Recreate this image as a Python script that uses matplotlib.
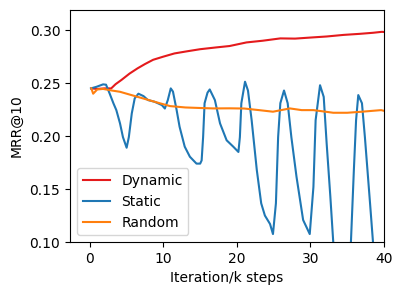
import matplotlib
matplotlib.use("Agg")
import matplotlib.pyplot as plt

# values
dyn_t = [0.2, 1.0, 2.0, 2.9, 3.5, 4.3, 5.4, 6.5, 7.5, 8.6, 10.0, 11.5, 13.2, 15.0,
         17.2, 19.0, 21.3, 23.5, 25.9, 27.9, 30.0, 32.2, 34.5, 36.7, 38.5, 39.7, 40.5]
dyn_v = [0.245, 0.2445, 0.245, 0.245, 0.249, 0.253, 0.259, 0.264, 0.268, 0.272, 0.275,
         0.278, 0.280, 0.282, 0.2837, 0.285, 0.2884, 0.290, 0.2922, 0.292, 0.293, 0.294,
         0.2955, 0.2965, 0.2975, 0.2984, 0.298]

sta_t = [0.15, 0.9, 1.8, 2.2, 2.7, 3.2, 3.6, 4.1, 4.5, 5.0, 5.3, 5.7, 6.1, 6.6, 7.3,
         7.9, 8.8, 9.8, 10.2, 10.6, 11.0, 11.3, 11.8, 12.2, 12.9, 13.6, 14.5, 15.0,
         15.2, 15.4, 15.6, 16.0, 16.3, 17.0, 17.7, 18.6, 19.5, 20.2, 20.4, 20.6, 21.1,
         21.5, 22.0, 22.7, 23.3, 23.8, 24.5, 24.9, 25.3, 25.6, 25.9, 26.4, 26.9, 27.4,
         28.1, 29.0, 29.9, 30.4, 30.7, 31.3, 31.8, 32.2, 32.7, 33.1, 34.3, 35.5, 35.9,
         36.2, 36.5, 37.0, 37.4, 38.1, 38.5, 39.5, 40.5]
sta_v = [0.245, 0.2465, 0.2488, 0.2485, 0.240, 0.231, 0.2245, 0.212, 0.199, 0.189,
         0.199, 0.2214, 0.2356, 0.240, 0.2377, 0.234, 0.2324, 0.2292, 0.226, 0.234,
         0.245, 0.242, 0.2245, 0.2088, 0.190, 0.1805, 0.174, 0.174, 0.177, 0.199, 0.231,
         0.241, 0.244, 0.234, 0.212, 0.196, 0.190, 0.185, 0.199, 0.231, 0.2513, 0.243,
         0.215, 0.168, 0.1365, 0.125, 0.117, 0.1075, 0.1365, 0.199, 0.231, 0.243, 0.231,
         0.199, 0.1616, 0.1208, 0.1075, 0.152, 0.215, 0.248, 0.237, 0.193, 0.143, 0.0995,
         0.060, 0.100, 0.168, 0.215, 0.2387, 0.231, 0.199, 0.1365, 0.100, 0.060, 0.050]

rnd_t = [0.2, 0.45, 1.0, 1.8, 3.0, 4.1, 5.5, 7.7, 9.5, 10.9, 13.0, 15.0, 16.8, 19.0,
         21.0, 23.0, 24.9, 27.2, 28.8, 30.4, 31.5, 33.1, 35.0, 37.0, 39.6, 40.5]
rnd_v = [0.245, 0.240, 0.244, 0.2445, 0.243, 0.2418, 0.239, 0.2346, 0.231, 0.2283,
         0.227, 0.2265, 0.2261, 0.2262, 0.226, 0.2245, 0.223, 0.2261, 0.2245, 0.2245,
         0.2235, 0.222, 0.222, 0.223, 0.2245, 0.223]

fig = plt.figure(figsize=(4.03, 2.96), dpi=100)
ax = fig.add_axes([0.1737, 0.1824, 0.7792, 0.7838])

ax.plot(dyn_t, dyn_v, color='#e41a1c', linewidth=1.5, label='Dynamic')
ax.plot(sta_t, sta_v, color='#1f77b4', linewidth=1.5, label='Static')
ax.plot(rnd_t, rnd_v, color='#ff7f0e', linewidth=1.5, label='Random')

ax.set_xlim(-2.7, 40)
ax.set_ylim(0.1, 0.319)
ax.set_yticks([0.10, 0.15, 0.20, 0.25, 0.30])
ax.set_xticks([0, 10, 20, 30, 40])
ax.set_xlabel('Iteration/k steps')
ax.set_ylabel('MRR@10')
ax.legend(loc='lower left')

fig.savefig('out.png', dpi=100)
